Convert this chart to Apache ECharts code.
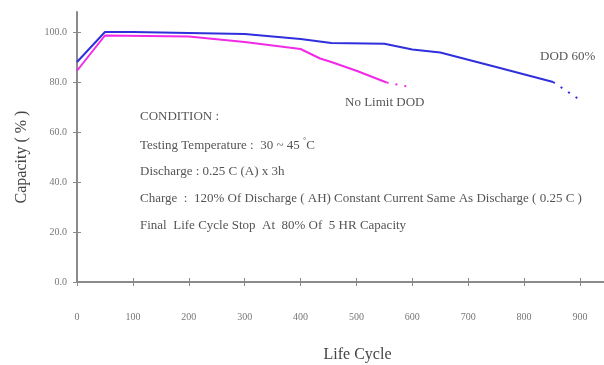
<!DOCTYPE html>
<html>
<head>
<meta charset="utf-8">
<script src="https://cdn.jsdelivr.net/npm/echarts@6/dist/echarts.min.js"></script>
<style>
  html, body { margin: 0; padding: 0; background: #fff; }
  #chart { width: 604px; height: 365px; }
</style>
</head>
<body>
<div id="chart"></div>
<script>
// life cycle vs capacity (%)
const dod60 = [[0, 88], [50, 100], [100, 100], [200, 99.6], [300, 99.2], [400, 97.2], [455, 95.6], [550, 95.3], [600, 93], [650, 91.8], [750, 86], [852, 80]];
const dod60Tail = [[852, 80], [903, 72.4]];
const noLimit = [[0, 84.5], [50, 98.6], [200, 98.2], [300, 96], [400, 93.2], [435, 89.4], [455, 88], [500, 84.5], [554, 79.8]];
const noLimitTail = [[554, 79.8], [596, 78]];
const xTicks = [0, 100, 200, 300, 400, 500, 600, 700, 800, 900];
const yTicks = [0, 20, 40, 60, 80, 100];
const notes = [
    'CONDITION :',
    'Testing Temperature :  30 ~ 45 {sup|°}C',
    'Discharge : 0.25 C (A) x 3h',
    'Charge  :  120% Of Discharge ( AH) Constant Current Same As Discharge ( 0.25 C )',
    'Final  Life Cycle Stop  At  80% Of  5 HR Capacity'
];

const serif = '"Liberation Serif", "DejaVu Serif", serif';
const axisGrey = '#8a8a8a';
const blue = '#2f2fdc';
const pink = '#f02ae6';

const chart = echarts.init(document.getElementById('chart'));

const noteItems = notes.map((t, i) => ({
    type: 'text',
    left: 140,
    top: 110 + i * 27.3,
    style: {
        text: t,
        fill: '#555',
        font: '13px ' + serif,
        rich: { sup: { fontSize: 8, verticalAlign: 'top', padding: [0, 0, 8, 0], fill: '#555', fontFamily: serif } }
    }
}));

chart.setOption({
    animation: false,
    grid: { left: 77, right: 0, top: 12, bottom: 83, outerBoundsMode: 'none' },
    xAxis: [
        {
            type: 'value',
            min: 0,
            max: 943,
            name: 'Life Cycle',
            nameLocation: 'middle',
            nameGap: 65,
            nameTextStyle: { fontFamily: serif, fontSize: 16, color: '#444', padding: [0, 0, 0, 34] },
            axisLine: { lineStyle: { color: axisGrey, width: 2 } },
            axisTick: { show: true, length: 4, customValues: xTicks, lineStyle: { color: axisGrey } },
            axisLabel: {
                customValues: xTicks,
                margin: 30,
                fontFamily: serif,
                fontSize: 10,
                color: '#777'
            },
            splitLine: { show: false }
        },
        {
            type: 'value',
            min: 0,
            max: 943,
            position: 'bottom',
            axisLine: { show: false },
            axisTick: { show: true, inside: true, length: 4, customValues: xTicks, lineStyle: { color: axisGrey } },
            axisLabel: { show: false },
            splitLine: { show: false }
        }
    ],
    yAxis: [
        {
            type: 'value',
            min: 0,
            max: 108,
            name: 'Capacity ( % )',
            nameLocation: 'middle',
            nameRotate: 90,
            nameGap: 47,
            nameTextStyle: { fontFamily: serif, fontSize: 16, color: '#444', padding: [0, 0, 0, -20] },
            axisLine: { show: true, lineStyle: { color: axisGrey, width: 2 } },
            axisTick: { show: true, length: 4, customValues: yTicks, lineStyle: { color: axisGrey } },
            axisLabel: {
                customValues: yTicks,
                margin: 10,
                fontFamily: serif,
                fontSize: 10,
                color: '#777',
                formatter: v => v.toFixed(1)
            },
            splitLine: { show: false }
        },
        {
            type: 'value',
            min: 0,
            max: 108,
            position: 'left',
            axisLine: { show: false },
            axisTick: { show: true, inside: true, length: 4, customValues: yTicks, lineStyle: { color: axisGrey } },
            axisLabel: { show: false },
            splitLine: { show: false }
        }
    ],
    series: [
        {
            name: 'DOD 60%',
            type: 'line',
            data: dod60,
            symbol: 'none',
            lineStyle: { color: blue, width: 2 }
        },
        {
            type: 'line',
            data: dod60Tail,
            symbol: 'none',
            lineStyle: { color: blue, width: 2, type: [2, 7] }
        },
        {
            name: 'No Limit DOD',
            type: 'line',
            data: noLimit,
            symbol: 'none',
            lineStyle: { color: pink, width: 2 }
        },
        {
            type: 'line',
            data: noLimitTail,
            symbol: 'none',
            lineStyle: { color: pink, width: 2, type: [2, 7] }
        }
    ],
    graphic: [
        {
            type: 'text',
            left: 540,
            top: 50,
            style: { text: 'DOD 60%', fill: '#555', font: '13px ' + serif }
        },
        {
            type: 'text',
            left: 345,
            top: 96,
            style: { text: 'No Limit DOD', fill: '#555', font: '13px ' + serif }
        },
        ...noteItems
    ]
});
</script>
</body>
</html>
